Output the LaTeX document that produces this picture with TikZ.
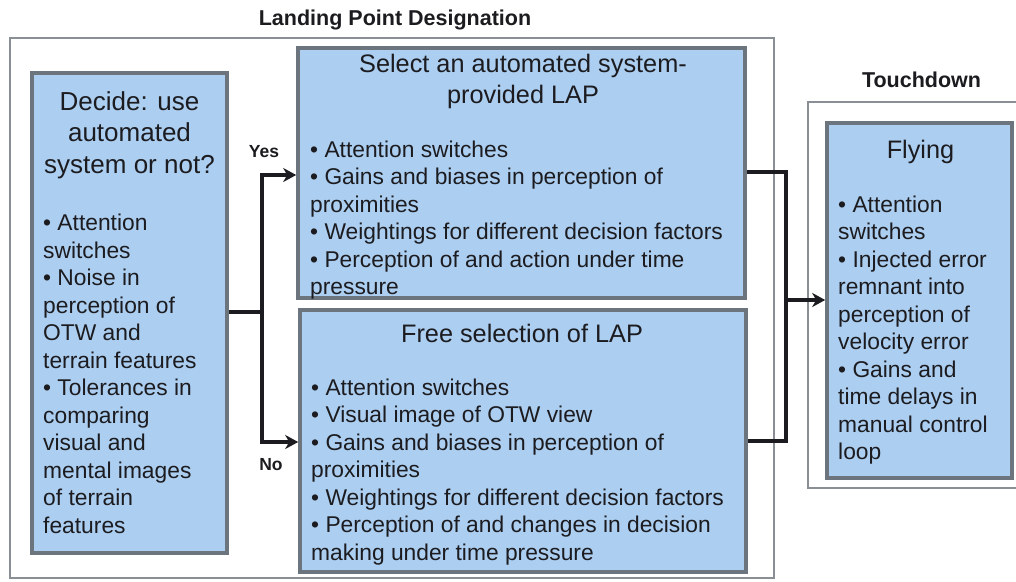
\documentclass[tikz,border=0pt]{standalone}
\usepackage{fontspec}
\setmainfont{Liberation Sans}
\usetikzlibrary{arrows.meta}
\definecolor{boxfill}{RGB}{172,206,240}
\definecolor{boxedge}{RGB}{108,116,126}
\definecolor{frameedge}{RGB}{138,143,150}
\definecolor{ink}{RGB}{28,28,32}
\tikzset{
  x=1pt, y=-1pt,
  phasebox/.style={draw=boxedge, line width=3.6pt, fill=boxfill, inner sep=0pt},
  phaseframe/.style={draw=frameedge, line width=2.8pt, inner sep=0pt},
  boxtitle/.style={anchor=north, inner sep=0pt, align=center, text=ink},
  boxbody/.style={anchor=north west, inner sep=0pt, align=left, text=ink,
    font=\fontsize{22.8}{27.5}\selectfont},
  phasetitle/.style={anchor=base, inner sep=0pt, text=ink,
    font=\bfseries\fontsize{21.5}{26}\selectfont},
  branchlabel/.style={anchor=base, inner sep=0pt, text=ink,
    font=\bfseries\fontsize{17.5}{21}\selectfont},
  conn/.style={draw=ink, line width=3.4pt},
  arr/.style={conn, -{Stealth[length=13pt,width=14pt,inset=4pt]}}
}
\begin{document}
\begin{tikzpicture}
\useasboundingbox (0,0) rectangle (1016,581);
\clip (0,0) rectangle (1016,581);

% phase frames
\node[phaseframe, minimum width=764, minimum height=540] (lpd) at (392,308) {};
\node[phaseframe, minimum width=216, minimum height=386] (td) at (916,295) {};
\node[phasetitle] (lpdtitle) at (395,25) {Landing Point Designation};
\node[phasetitle] (tdtitle) at (921.5,87) {Touchdown};

% task boxes
\node[phasebox, minimum width=195, minimum height=480] (decide) at (129.5,313) {};
\node[phasebox, minimum width=447, minimum height=250] (select) at (521.5,173) {};
\node[phasebox, minimum width=446, minimum height=262] (free) at (523,441) {};
\node[phasebox, minimum width=185, minimum height=355] (flying) at (919.5,300.5) {};

% box titles
\node[boxtitle, font=\fontsize{26}{31.5}\selectfont] (decidetitle) at (129.5,88)
  {\strut Decide: use\\automated\\system or not?};
\node[boxtitle, font=\fontsize{25.3}{31}\selectfont] (selecttitle) at (523,50.3)
  {\strut Select an automated system-\\provided LAP};
\node[boxtitle, font=\fontsize{25.3}{31}\selectfont] (freetitle) at (522,320.3)
  {\strut Free selection of LAP};
\node[boxtitle, font=\fontsize{25.3}{31}\selectfont] (flyingtitle) at (920.5,136.3)
  {\strut Flying};

% box contents
\node[boxbody] (decidebody) at (43,211.2) {\strut • Attention\\switches\\• Noise in\\perception of\\OTW and\\terrain features\\• Tolerances in\\comparing\\visual and\\mental images\\of terrain\\features};
\node[boxbody] (selectbody) at (310,137.8) {\strut • Attention switches\\• Gains and biases in perception of\\proximities\\• Weightings for different decision factors\\• Perception of and action under time\\pressure};
\node[boxbody] (freebody) at (311,375.8) {\strut • Attention switches\\• Visual image of OTW view\\• Gains and biases in perception of\\proximities\\• Weightings for different decision factors\\• Perception of and changes in decision\\making under time pressure};
\node[boxbody] (flyingbody) at (838,192.8) {\strut • Attention\\switches\\• Injected error\\remnant into\\perception of\\velocity error\\• Gains and\\time delays in\\manual control\\loop};

% branch labels
\node[branchlabel] (yes) at (264,157) {Yes};
\node[branchlabel] (no) at (271,470) {No};

% decision branches
\coordinate (split) at (262,312);
\coordinate (yesturn) at (262,175);
\coordinate (noturn) at (262,442);
\draw[conn] (decide.east |- split) -- (split);
\draw[arr] (split) -- (yesturn) -- (select.west |- yesturn);
\draw[arr] (split) -- (noturn) -- (free.west |- noturn);

% merge into touchdown
\coordinate (selout) at (786,172);
\coordinate (freeout) at (786,441);
\coordinate (merge) at (786,300);
\draw[conn] (select.east |- selout) -- (selout) -- (freeout) -- (free.east |- freeout);
\draw[arr] (merge) -- (flying.west |- merge);
\end{tikzpicture}
\end{document}
